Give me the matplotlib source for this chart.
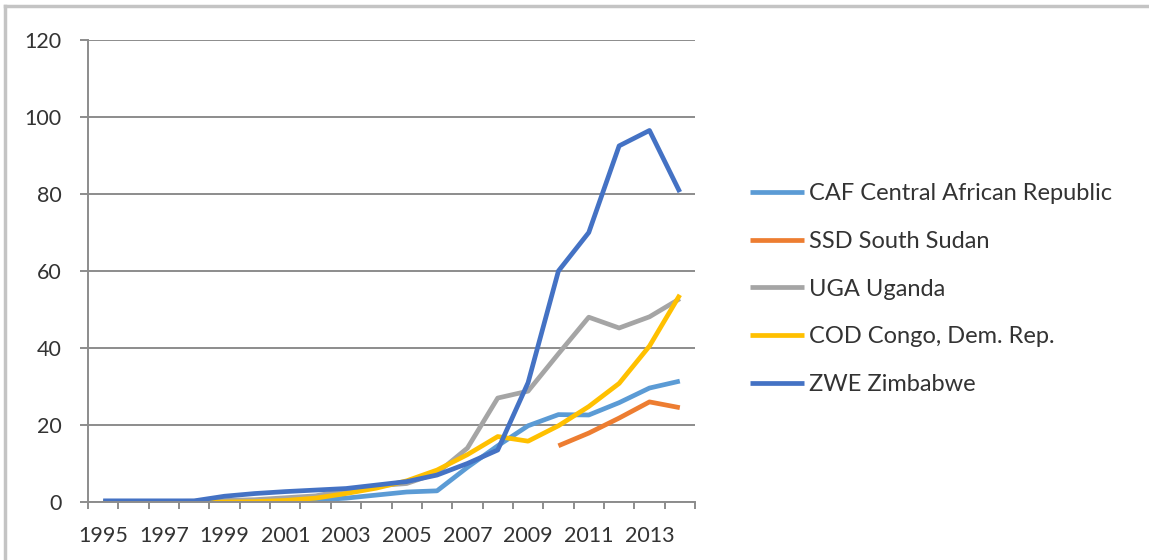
import matplotlib.pyplot as plt
import numpy as np
from matplotlib.lines import Line2D
from matplotlib.ticker import FixedLocator

years = list(range(1995, 2015))

caf = [0, 0, 0, 0, 0.1, 0.1, 0.3, 0.5, 1.0, 1.8, 2.6, 2.9, 9.0, 14.6, 19.8,
       22.7, 22.6, 25.8, 29.6, 31.4]
ssd = [np.nan] * 15 + [14.6, 17.9, 21.8, 26.0, 24.5]
uga = [0, 0, 0.1, 0.2, 0.4, 0.6, 1.1, 1.6, 3.0, 4.2, 4.8, 7.5, 14.0, 27.0,
       28.8, 38.5, 48.0, 45.2, 48.1, 52.8]
cod = [0, 0, 0, 0, 0, 0.1, 0.4, 1.0, 2.2, 3.6, 5.5, 8.3, 12.3, 17.0, 15.8,
       19.8, 24.8, 30.8, 40.5, 53.8]
zwe = [0.3, 0.3, 0.3, 0.3, 1.5, 2.2, 2.7, 3.1, 3.5, 4.4, 5.3, 7.0, 10.0,
       13.5, 31.0, 60.0, 70.0, 92.5, 96.5, 80.5]

series = [
    ("CAF Central African Republic", caf, "#5B9BD5"),
    ("SSD South Sudan", ssd, "#ED7D31"),
    ("UGA Uganda", uga, "#A5A5A5"),
    ("COD Congo, Dem. Rep.", cod, "#FFC000"),
    ("ZWE Zimbabwe", zwe, "#4472C4"),
]

plt.rcParams["font.family"] = ["Lato", "DejaVu Sans"]
axis_grey = "#8C8C8C"
text_grey = "#333333"

fig = plt.figure(figsize=(11.49, 5.6), dpi=100)
ax = fig.add_axes([88 / 1149, 58 / 560, 607 / 1149, 462 / 560])

for name, values, color in series:
    ax.plot(years, values, color=color, lw=3.4, label=name,
            solid_capstyle="butt", solid_joinstyle="round")

ax.set_xlim(1994.5, 2014.5)
ax.set_ylim(0, 120)
ax.set_yticks(range(0, 121, 20))
ax.yaxis.grid(True, color=axis_grey, lw=1.4)
ax.set_axisbelow(True)

# category boundaries carry the tick marks, labels sit on every other year
ax.xaxis.set_major_locator(FixedLocator(np.arange(1994.5, 2015, 1.0)))
ax.xaxis.set_minor_locator(FixedLocator(years[::2]))
ax.xaxis.set_major_formatter(plt.NullFormatter())
ax.xaxis.set_minor_formatter(plt.FuncFormatter(lambda v, p: f"{int(round(v))}"))
ax.tick_params(axis="x", which="major", length=5, width=1.4, color=axis_grey)
ax.tick_params(axis="x", which="minor", length=0, pad=17,
               labelsize=15.5, labelcolor=text_grey)
ax.tick_params(axis="y", length=6, width=1.4, color=axis_grey, pad=13,
               labelsize=15.5, labelcolor=text_grey)

for side in ("top", "right"):
    ax.spines[side].set_visible(False)
for side in ("left", "bottom"):
    ax.spines[side].set_color(axis_grey)
    ax.spines[side].set_linewidth(1.4)

fig.legend(loc="center left", bbox_to_anchor=(750 / 1149, 271 / 560),
           frameon=False, borderpad=0, borderaxespad=0, fontsize=17,
           handlelength=2.3, handletextpad=0.2, labelspacing=1.13,
           labelcolor=text_grey)

# outer chart-area frame
fig.add_artist(Line2D([5 / 1149, 5 / 1149], [0, 554 / 560], color="#C4C4C4",
                      lw=2.5, transform=fig.transFigure))
fig.add_artist(Line2D([5 / 1149, 1], [554 / 560, 554 / 560], color="#C4C4C4",
                      lw=2.5, transform=fig.transFigure))

fig.savefig("out.png", dpi=100)
